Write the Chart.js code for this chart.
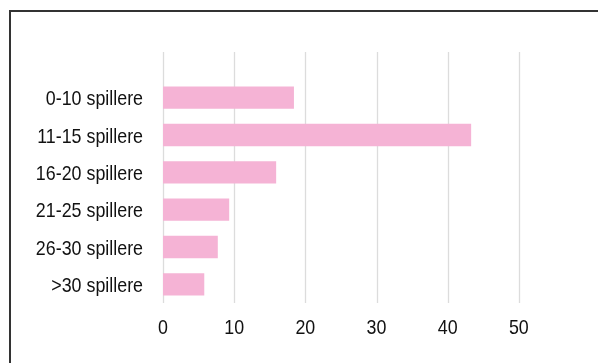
<!DOCTYPE html>
<html>
<head>
<meta charset="utf-8">
<script src="https://cdn.jsdelivr.net/npm/chart.js@4"></script>
<style>
  html, body { margin: 0; padding: 0; background: #fff; }
  #wrap { position: relative; width: 598px; height: 363px; overflow: hidden; }
  #frame { position: absolute; left: 9px; top: 10px; width: 700px; height: 500px;
           border-top: 2px solid #333; border-left: 2px solid #333; }
  canvas { position: absolute; left: 0; top: 0; }
</style>
</head>
<body>
<div id="wrap">
  <div id="frame"></div>
  <canvas id="c" width="598" height="363"></canvas>
</div>
<script>
const categories = ['0-10 spillere', '11-15 spillere', '16-20 spillere', '21-25 spillere', '26-30 spillere', '>30 spillere'];
const values = [18.4, 43.3, 15.9, 9.3, 7.7, 5.8];
const tickValues = [0, 10, 20, 30, 40, 50];

const FONT = "21px 'Liberation Sans', Arial, sans-serif";
const NARROW = 0.85;   // horizontal squeeze for a condensed look

// vertical gridlines drawn from the x scale, reaching above the first bar
const gridPlugin = {
  id: 'grid',
  beforeDatasetsDraw(chart) {
    const { ctx, scales: { x }, chartArea } = chart;
    ctx.save();
    ctx.strokeStyle = '#dcdcdc';
    ctx.lineWidth = 1.3;
    tickValues.forEach(v => {
      const px = Math.round(x.getPixelForValue(v)) + 0.5;
      ctx.beginPath();
      ctx.moveTo(px, 52);
      ctx.lineTo(px, chartArea.bottom);
      ctx.stroke();
    });
    ctx.restore();
  }
};

// condensed tick labels placed from the scales' own tick positions
function narrowText(ctx, text, x, y, align) {
  ctx.save();
  ctx.translate(x, y);
  ctx.scale(NARROW, 1);
  ctx.textAlign = align;
  ctx.fillText(text, 0, 0);
  ctx.restore();
}
const labelPlugin = {
  id: 'labels',
  afterDraw(chart) {
    const { ctx, scales: { x, y }, chartArea } = chart;
    ctx.save();
    ctx.font = FONT;
    ctx.fillStyle = '#111';
    ctx.textBaseline = 'middle';
    y.ticks.forEach((t, i) => {
      narrowText(ctx, chart.data.labels[i], chartArea.left - 20, y.getPixelForTick(i) + 2, 'right');
    });
    tickValues.forEach(v => {
      narrowText(ctx, String(v), x.getPixelForValue(v), chartArea.bottom + 25, 'center');
    });
    ctx.restore();
  }
};

new Chart(document.getElementById('c'), {
  type: 'bar',
  data: {
    labels: categories,
    datasets: [{
      data: values,
      backgroundColor: '#f5b3d5',
      borderWidth: 0,
      categoryPercentage: 0.6,
      barPercentage: 1.0
    }]
  },
  options: {
    indexAxis: 'y',
    responsive: false,
    animation: false,
    devicePixelRatio: 1,
    layout: { padding: { top: 79, right: 8, left: 0, bottom: 0 } },
    plugins: { legend: { display: false }, tooltip: { enabled: false } },
    scales: {
      x: {
        min: 0, max: 60,
        afterBuildTicks(scale) { scale.ticks = tickValues.map(v => ({ value: v })); },
        afterFit(scale) { scale.height = 60; },
        grid: { display: false, drawTicks: false },
        border: { display: false },
        ticks: { display: false }
      },
      y: {
        afterFit(scale) { scale.width = 163; },
        grid: { display: false, drawTicks: false },
        border: { display: false },
        ticks: { display: false }
      }
    }
  },
  plugins: [gridPlugin, labelPlugin]
});
</script>
</body>
</html>
